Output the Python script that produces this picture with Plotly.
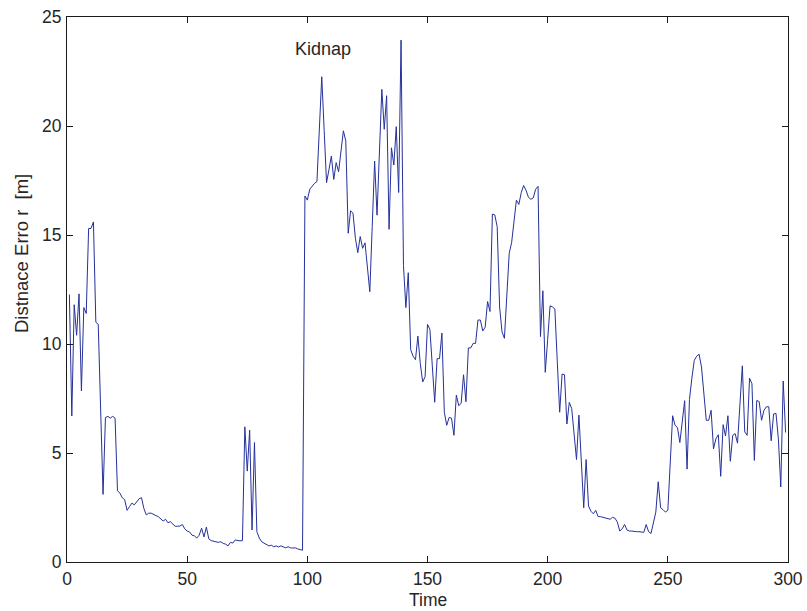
import plotly.graph_objects as go

time_steps = list(range(1, 300))

distance_error = [
    12.27, 6.7, 11.8, 10.4, 12.3, 7.85, 11.67, 11.4, 15.3, 15.3,
    15.6, 11.0, 10.9, 7.0, 3.1, 6.63, 6.68, 6.6, 6.68, 6.6,
    3.27, 3.16, 2.95, 2.86, 2.37, 2.54, 2.7, 2.62, 2.78, 2.9,
    2.95, 2.45, 2.16, 2.24, 2.24, 2.2, 2.13, 2.08, 2.0, 1.88,
    1.96, 1.8, 1.85, 1.72, 1.64, 1.64, 1.65, 1.72, 1.52, 1.42,
    1.38, 1.23, 1.2, 1.1, 1.23, 1.55, 1.15, 1.6, 1.06, 0.98,
    0.95, 0.93, 0.9, 0.93, 0.85, 0.82, 0.74, 0.9, 0.87, 1.01,
    0.98, 0.97, 0.98, 6.2, 4.17, 6.05, 1.47, 5.48, 1.39, 1.1,
    0.93, 0.87, 0.79, 0.74, 0.77, 0.7, 0.74, 0.69, 0.74, 0.7,
    0.65, 0.7, 0.65, 0.64, 0.65, 0.6, 0.57, 0.54, 16.79, 16.6,
    17.1, 17.25, 17.37, 17.45, 19.85, 22.26, 19.8, 17.4, 18.0, 18.62,
    17.55, 18.32, 17.9, 18.8, 19.78, 19.31, 15.08, 16.11, 16.0, 14.85,
    14.19, 14.93, 14.39, 14.64, 13.5, 12.4, 15.4, 18.39, 15.91, 18.8,
    21.68, 19.85, 21.39, 15.26, 19.0, 18.21, 19.97, 16.95, 23.94, 13.6,
    11.67, 13.27, 9.74, 9.44, 9.28, 10.36, 9.1, 8.26, 8.5, 10.9,
    10.67, 9.0, 7.33, 9.33, 9.33, 10.5, 6.87, 6.27, 6.63, 6.6,
    5.81, 7.66, 7.17, 7.28, 8.59, 7.35, 9.82, 9.82, 10.03, 10.03,
    11.1, 11.1, 10.6, 10.77, 11.95, 11.49, 15.96, 15.92, 15.38, 11.7,
    10.56, 10.26, 12.36, 14.16, 14.65, 15.79, 16.6, 16.4, 16.94, 17.27,
    17.05, 16.73, 16.64, 16.7, 17.1, 17.23, 10.34, 12.44, 8.7, 10.2,
    11.75, 11.7, 11.6, 9.2, 6.87, 8.62, 8.59, 6.33, 7.32, 7.04,
    5.9, 4.7, 6.74, 4.6, 2.49, 4.7, 2.57, 2.33, 2.21, 2.37,
    2.08, 2.08, 2.05, 2.01, 1.96, 1.96, 2.05, 2.01, 1.83, 1.42,
    1.52, 1.72, 1.47, 1.42, 1.42, 1.39, 1.39, 1.39, 1.36, 1.36,
    1.72, 1.39, 1.31, 1.88, 2.29, 3.68, 2.49, 2.4, 2.29, 2.37,
    4.5, 6.71, 6.27, 6.17, 5.48, 6.46, 7.4, 4.26, 7.45, 8.43,
    9.25, 9.44, 9.53, 8.95, 7.69, 6.5, 6.5, 6.96, 5.19, 5.65,
    5.84, 3.93, 6.3, 5.78, 6.71, 4.62, 5.81, 5.89, 5.45, 7.36,
    9.0, 5.97, 5.81, 8.43, 8.18, 4.66, 7.41, 7.36, 6.5, 6.96,
    7.12, 7.12, 5.56, 6.79, 6.82, 5.65, 3.44, 8.3, 5.94,
]

x_ticks = [0, 50, 100, 150, 200, 250, 300]
y_ticks = [0, 5, 10, 15, 20, 25]

x_title = "Time"
y_title = "Distnace Erro r  [m]"
note_text = "Kidnap"
note_x = 106.4
note_y = 23.55

FONT = "Liberation Sans, Arial, sans-serif"
TEXT_COLOR = "#262626"

fig = go.Figure()
fig.add_trace(go.Scatter(
    x=time_steps, y=distance_error, mode="lines",
    line=dict(color="#25319a", width=1),
    showlegend=False, hoverinfo="skip",
))

axis_common = dict(
    showgrid=False, zeroline=False, automargin=False,
    showline=True, linecolor="#1a1a1a", linewidth=1,
    mirror="ticks", ticks="inside", ticklen=6, tickcolor="#1a1a1a", tickwidth=1,
    tickfont=dict(family=FONT, size=17.5, color=TEXT_COLOR),
)

fig.update_xaxes(range=[0, 300], tickvals=x_ticks, ticktext=[str(v) for v in x_ticks],
                 ticklabelstandoff=1, **axis_common)
fig.update_yaxes(range=[0, 25], tickvals=y_ticks, ticktext=[str(v) for v in y_ticks],
                 ticklabelstandoff=1, **axis_common)

fig.add_annotation(text=x_title, xref="paper", yref="paper", x=0.5, y=-0.0703,
                   xanchor="center", yanchor="middle", showarrow=False,
                   font=dict(family=FONT, size=17.5, color=TEXT_COLOR))
fig.add_annotation(text=y_title, xref="paper", yref="paper", x=-0.0638, y=0.565,
                   xanchor="center", yanchor="middle", textangle=-90, showarrow=False,
                   font=dict(family=FONT, size=18.5, color=TEXT_COLOR))
fig.add_annotation(text=note_text, xref="x", yref="y", x=note_x, y=note_y,
                   xanchor="center", yanchor="middle", showarrow=False,
                   font=dict(family=FONT, size=18, color=TEXT_COLOR))

fig.update_layout(
    width=807, height=611,
    margin=dict(l=67, r=19, t=17, b=49),
    paper_bgcolor="white", plot_bgcolor="white",
)

fig.write_html("out.html")
